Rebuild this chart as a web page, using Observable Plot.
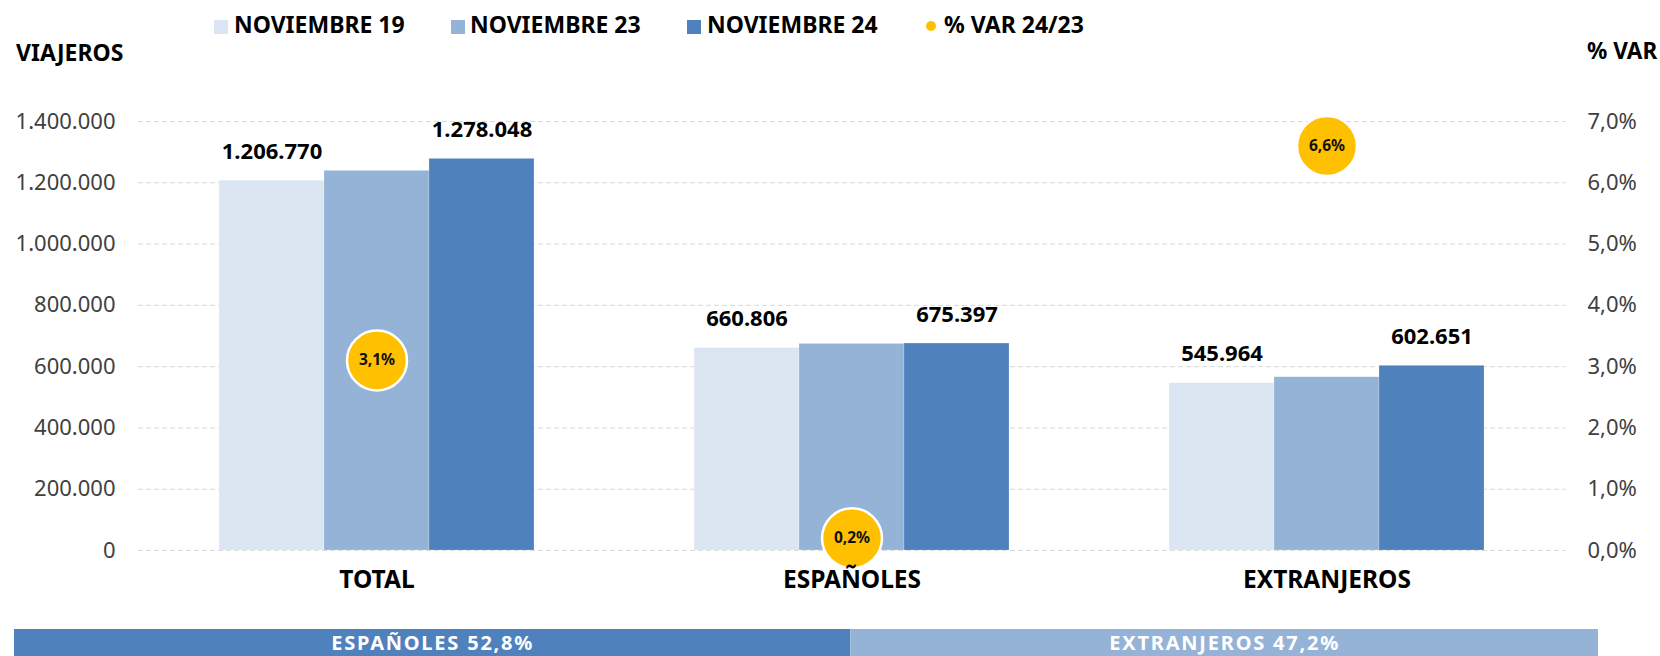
<!DOCTYPE html>
<html>
<head>
<meta charset="utf-8">
<script src="https://cdn.jsdelivr.net/npm/d3@7"></script>
<script src="https://cdn.jsdelivr.net/npm/@observablehq/plot@0.6"></script>
<style>
  body { margin: 0; background: #fff; font-family: "Noto Sans", sans-serif; }
  #wrap { position: relative; width: 1660px; height: 656px; overflow: hidden; background: #fff; }
  #wrap svg { position: absolute; left: 0; }
  .abs { position: absolute; white-space: nowrap; line-height: 1; font-family: "Noto Sans", sans-serif; }
</style>
</head>
<body>
<div id="wrap"></div>
<script>
// ---- data ----
const categories = ["TOTAL", "ESPAÑOLES", "EXTRANJEROS"];
const series = ["NOVIEMBRE 19", "NOVIEMBRE 23", "NOVIEMBRE 24"];
const nov19 = [1206770, 660806, 545964];
const nov23 = [1239000, 674050, 565350];
const nov24 = [1278048, 675397, 602651];
const varLabel = "% VAR 24/23";
const varPct = [3.1, 0.2, 6.6];           // % variation 24/23
const labelledSeries = ["NOVIEMBRE 19", "NOVIEMBRE 24"];
const leftTicks = [0, 200000, 400000, 600000, 800000, 1000000, 1200000, 1400000];
const rightTicks = [0, 1, 2, 3, 4, 5, 6, 7]; // % values on right axis
const shareLabels = ["ESPAÑOLES", "EXTRANJEROS"];
const shareValues = [52.8, 47.2];
const leftTitle = "VIAJEROS";
const rightTitle = "% VAR";

// ---- styles ----
const seriesColors = ["#DCE6F2", "#95B3D7", "#4F81BD"];
const varColor = "#FFC000";
const shareColors = ["#4F81BD", "#95B3D7"];

const loc = d3.formatLocale({decimal: ",", thousands: ".", grouping: [3], currency: ["", "€"]});
const fmtInt = loc.format(",.0f");
const fmt1 = loc.format(".1f");

// scale relation: 7% on the right axis corresponds to 1.400.000 on the left axis
const pctToY = leftTicks[leftTicks.length - 1] / rightTicks[rightTicks.length - 1];

const values = [nov19, nov23, nov24];
const barData = [];
categories.forEach((c, i) => series.forEach((s, j) => barData.push({cat: c, series: s, value: values[j][i]})));
const varData = categories.map((c, i) => ({cat: c, series: series[1], pct: varPct[i]}));
const shareData = shareLabels.map((l, i) => ({label: l, value: shareValues[i]}));

const W = 1660, H = 620;
const frame = {
  width: W, height: H,
  marginTop: 121, marginBottom: 70, marginLeft: 138, marginRight: 94.5
};
const yScale = {domain: [0, leftTicks[leftTicks.length - 1]], axis: null};

// background layer: dashed grid across the whole frame + both y axes
const grid = Plot.plot({
  ...frame,
  style: {fontFamily: "Noto Sans, sans-serif", background: "transparent", overflow: "visible"},
  y: yScale,
  marks: [
    Plot.ruleY(leftTicks, {stroke: "#d9d9d9", strokeWidth: 1, strokeDasharray: "5,3"}),
    Plot.axisY({anchor: "left", ticks: leftTicks, tickFormat: fmtInt, tickSize: 0, tickPadding: 23, fontSize: 22, color: "#404040", label: null}),
    Plot.axisY({anchor: "right", ticks: rightTicks.map(d => d * pctToY), tickFormat: d => fmt1(d / pctToY) + "%", tickSize: 0, tickPadding: 21.5, fontSize: 22, color: "#404040", label: null})
  ]
});
grid.style.top = "0px";

const main = Plot.plot({
  ...frame,
  style: {fontFamily: "Noto Sans, sans-serif", background: "transparent", overflow: "visible"},
  fx: {domain: categories, paddingInner: 1/3, paddingOuter: 1/6},
  x: {domain: series, paddingInner: 0, paddingOuter: 0, axis: null},
  y: yScale,
  color: {domain: series, range: seriesColors},
  marks: [
    Plot.barY(barData, {fx: "cat", x: "series", y: "value", fill: "series", stroke: "#ffffff", strokeOpacity: 0.4, strokeWidth: 0.5}),
    Plot.text(barData.filter(d => labelledSeries.includes(d.series)), {
      fx: "cat", x: "series", y: "value", text: d => fmtInt(d.value),
      dy: -29, fontSize: 22, fontWeight: "bold", fill: "#000"
    }),
    Plot.dot(varData, {fx: "cat", x: "series", y: d => d.pct * pctToY, r: 30, fill: varColor, stroke: "#fff", strokeWidth: 2.5}),
    Plot.text(varData, {fx: "cat", x: "series", y: d => d.pct * pctToY, text: d => fmt1(d.pct) + "%", fontSize: 15.5, fontWeight: "bold", fill: "#111"}),
    Plot.axisFx({anchor: "bottom", tickSize: 0, tickPadding: 20, fontSize: 24.5, fontWeight: "bold", color: "#000", label: null})
  ]
});
main.style.top = "0px";

const share = Plot.plot({
  width: W,
  height: 27.5,
  marginTop: 0, marginBottom: 0, marginLeft: 14, marginRight: 62,
  style: {fontFamily: "Noto Sans, sans-serif", background: "transparent", letterSpacing: "1.8px"},
  x: {domain: [0, 100], axis: null},
  color: {domain: shareLabels, range: shareColors},
  marks: [
    Plot.barX(shareData, Plot.stackX({x: "value", fill: "label"})),
    Plot.text(shareData, Plot.stackX({x: "value", text: d => d.label + " " + fmt1(d.value) + "%", fill: "#fff", fontSize: 20, fontWeight: "bold"}))
  ]
});
share.style.top = "628.5px";

const wrap = document.getElementById("wrap");
wrap.appendChild(grid);
wrap.appendChild(main);
wrap.appendChild(share);

function addText(txt, left, top, size) {
  const t = document.createElement("div");
  t.className = "abs";
  t.textContent = txt;
  Object.assign(t.style, {left: left + "px", top: top + "px", fontSize: size + "px", fontWeight: "700", color: "#000"});
  wrap.appendChild(t);
  return t;
}

// legend (HTML, above the plot)
const legendPos = [{sq: 214, tx: 234}, {sq: 451, tx: 470}, {sq: 687, tx: 707}];
series.forEach((s, i) => {
  const sq = document.createElement("div");
  sq.className = "abs";
  Object.assign(sq.style, {left: legendPos[i].sq + "px", top: "20px", width: "13.5px", height: "13.5px", background: seriesColors[i]});
  wrap.appendChild(sq);
  addText(s, legendPos[i].tx, 13, 23);
});
const dot = document.createElement("div");
dot.className = "abs";
Object.assign(dot.style, {left: "925.5px", top: "20.7px", width: "10px", height: "10px", borderRadius: "50%", background: varColor});
wrap.appendChild(dot);
addText(varLabel, 944, 13, 23);

// axis titles
addText(leftTitle, 16, 41.3, 23);
addText(rightTitle, 1587, 40, 22.5);
</script>
</body>
</html>
